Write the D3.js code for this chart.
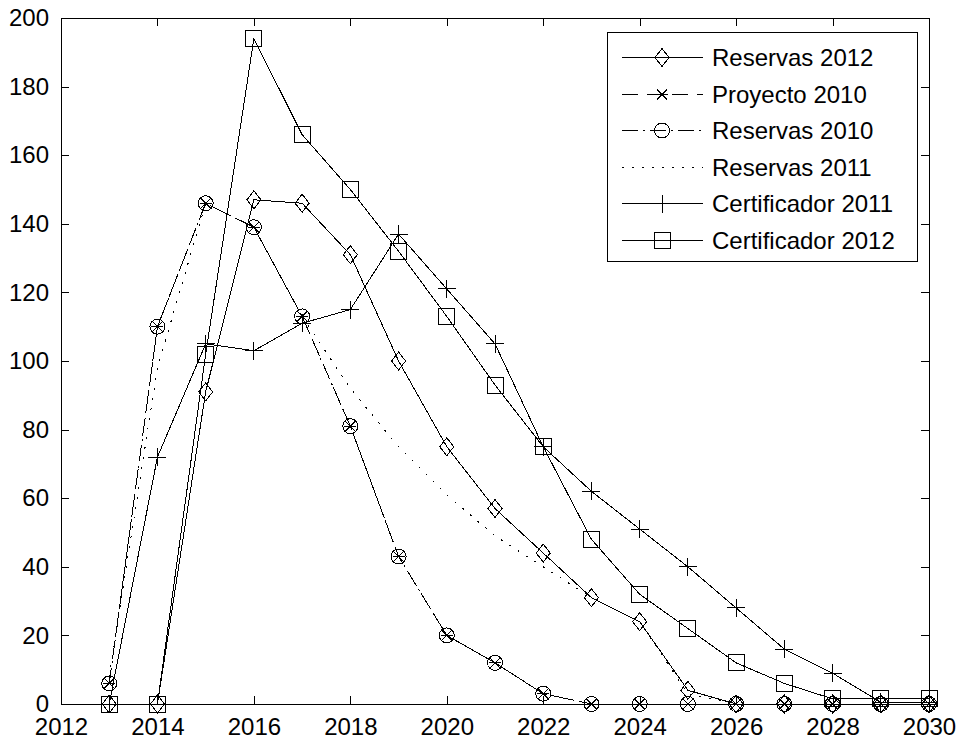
<!DOCTYPE html>
<html>
<head>
<meta charset="utf-8">
<script src="https://d3js.org/d3.v7.min.js"></script>
<style>
  body { margin: 0; background: #fff; }
  svg text { font-family: "Liberation Sans", Arial, sans-serif; font-size: 24px; fill: #000; }
  .axis path, .axis line { stroke: #000; stroke-width: 1; shape-rendering: crispEdges; }
</style>
</head>
<body>
<svg id="chart" width="959" height="741"></svg>
<script>
// data
var years = [2013, 2014, 2015, 2016, 2017, 2018, 2019, 2020, 2021, 2022, 2023, 2024, 2025, 2026, 2027, 2028, 2029, 2030];
var reservas2012    = [0, 0, 91, 147, 146, 131, 100, 75, 57, 44, 31, 24, 4, 0, 0, 0, 0, 0];
var proyecto2010    = [6, 110, 146, 139, 113, 81, 43, 20, 12, 3, 0, 0, 0, 0, 0, 0, 0, 0];
var reservas2010    = [6, 110, 146, 139, 113, 81, 43, 20, 12, 3, 0, 0, 0, 0, 0, 0, 0, 0];
var reservas2011    = [8, 98, 146, 139, 113, 92, 75, 61, 49, 40, 31, 24, 3, 0, 0, 0, 0, 0];
var certificador2011 = [0, 72, 105, 103, 111, 115, 137, 121, 105, 75, 62, 51, 40, 28, 16, 9, 0.5, 0.5];
var certificador2012 = [0, 0, 102, 194, 166, 150, 132, 113, 93, 75, 48, 32, 22, 12, 6, 1.5, 1.5, 1.5];

var xTicks = [2012, 2014, 2016, 2018, 2020, 2022, 2024, 2026, 2028, 2030];
var yTicks = [0, 20, 40, 60, 80, 100, 120, 140, 160, 180, 200];

var series = [
    {name: "Reservas 2012", values: reservas2012, dash: null, marker: "diamond"},
    {name: "Proyecto 2010", values: proyecto2010, dash: "16,9", marker: "star"},
    {name: "Reservas 2010", values: reservas2010, dash: "16,5,2,5", marker: "circle"},
    {name: "Reservas 2011", values: reservas2011, dash: "2,8", marker: null},
    {name: "Certificador 2011", values: certificador2011, dash: null, marker: "plus"},
    {name: "Certificador 2012", values: certificador2012, dash: null, marker: "square"}
];

var svg = d3.select("#chart");
var plotLeft = 61, plotRight = 929, plotTop = 18, plotBottom = 704;

var x = d3.scaleLinear().domain([2012, 2030]).range([plotLeft, plotRight]);
var y = d3.scaleLinear().domain([0, 200]).range([plotBottom, plotTop]);

// axes with ticks pointing inward, box on all four sides
svg.append("g").attr("class", "axis")
    .attr("transform", "translate(0," + plotBottom + ")")
    .call(d3.axisBottom(x).tickValues(xTicks).tickFormat(d3.format("d"))
        .tickSizeInner(-8).tickSizeOuter(0).tickPadding(14));
svg.append("g").attr("class", "axis")
    .attr("transform", "translate(0," + plotTop + ")")
    .call(d3.axisTop(x).tickValues(xTicks).tickFormat("")
        .tickSizeInner(-8).tickSizeOuter(0));
svg.append("g").attr("class", "axis")
    .attr("transform", "translate(" + plotLeft + ",0)")
    .call(d3.axisLeft(y).tickValues(yTicks)
        .tickSizeInner(-8).tickSizeOuter(0).tickPadding(12));
svg.append("g").attr("class", "axis")
    .attr("transform", "translate(" + plotRight + ",0)")
    .call(d3.axisRight(y).tickValues(yTicks).tickFormat("")
        .tickSizeInner(-8).tickSizeOuter(0));
svg.selectAll(".axis text").attr("font-size", 24).attr("font-family", null);
svg.selectAll(".axis .domain").remove();
svg.append("rect")
    .attr("x", plotLeft).attr("y", plotTop)
    .attr("width", plotRight - plotLeft).attr("height", plotBottom - plotTop)
    .attr("fill", "none").attr("stroke", "#000")
    .attr("shape-rendering", "crispEdges");

function drawMarker(g, type, cx, cy) {
    var m = g.append("g").attr("transform", "translate(" + cx + "," + cy + ")")
        .attr("fill", "none").attr("stroke", "#000").attr("stroke-width", 1)
        .attr("shape-rendering", "crispEdges");
    if (type == "diamond") {
        m.append("path").attr("d", "M0,-9L7,0L0,9L-7,0Z");
    } else if (type == "square") {
        m.append("rect").attr("x", -8).attr("y", -8).attr("width", 16).attr("height", 16);
    } else if (type == "circle") {
        m.append("circle").attr("r", 7.5);
    } else if (type == "plus") {
        m.append("path").attr("d", "M-9,0H9M0,-9V9");
    } else if (type == "star") {
        m.append("path").attr("d", "M-5,-5L5,5M-5,5L5,-5M-6,0H6");
    }
}

var line = d3.line()
    .x(function(d) { return x(d[0]); })
    .y(function(d) { return y(d[1]); });

series.forEach(function(s) {
    var pts = years.map(function(yr, i) { return [yr, s.values[i]]; });
    var g = svg.append("g");
    g.append("path")
        .datum(pts)
        .attr("d", line)
        .attr("fill", "none")
        .attr("stroke", "#000")
        .attr("stroke-width", 1)
        .attr("shape-rendering", "crispEdges")
        .attr("stroke-dasharray", s.dash);
    if (s.marker) {
        pts.forEach(function(p) { drawMarker(g, s.marker, x(p[0]), y(p[1])); });
    }
});

// legend
var legend = svg.append("g");
legend.append("rect")
    .attr("x", 607).attr("y", 32).attr("width", 310).attr("height", 229)
    .attr("fill", "#fff").attr("stroke", "#000").attr("shape-rendering", "crispEdges");
series.forEach(function(s, i) {
    var ry = Math.round(57 + i * 36.6) + 0.5;
    legend.append("line")
        .attr("x1", 622).attr("x2", 703).attr("y1", ry).attr("y2", ry)
        .attr("stroke", "#000").attr("stroke-width", 1)
        .attr("shape-rendering", "crispEdges")
        .attr("stroke-dasharray", s.dash);
    if (s.marker) drawMarker(legend, s.marker, 662, ry);
    legend.append("text")
        .attr("x", 712).attr("y", ry).attr("dy", "0.36em")
        .text(s.name);
});
</script>
</body>
</html>
